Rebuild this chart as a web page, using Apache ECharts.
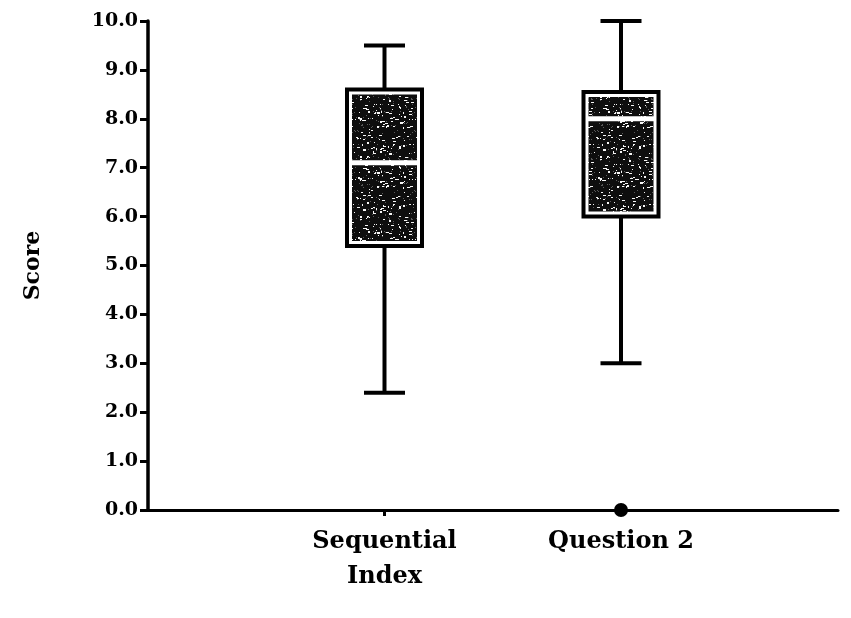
<!DOCTYPE html>
<html>
<head>
<meta charset="utf-8">
<script src="https://cdn.jsdelivr.net/npm/echarts@6/dist/echarts.min.js"></script>
<style>
  html, body { margin: 0; padding: 0; background: #fff; }
  #chart { width: 851px; height: 618px; }
</style>
</head>
<body>
<div id="chart"></div>
<script>
// Box-and-whisker summary per group
const categories = ['Sequential\nIndex', 'Question 2'];
const whiskerLow  = [2.4, 3.0];
const quartile1   = [5.4, 6.0];
const medians     = [7.1, 8.0];
const quartile3   = [8.6, 8.55];
const whiskerHigh = [9.5, 10.0];
// Outlying points: [group index, score]
const outliers = [[1, 0.0]];
const yTicks = [0, 10, 1]; // min, max, step

const FONT = 'DejaVu Serif';

// Dark speckled texture used inside the boxes
function speckleTexture() {
  const c = document.createElement('canvas');
  c.width = 60; c.height = 60;
  const g = c.getContext('2d');
  g.fillStyle = '#0e0e0e';
  g.fillRect(0, 0, 60, 60);
  function h(i, j) {
    let n = (i * 374761393 + j * 668265263) >>> 0;
    n = ((n ^ (n >>> 13)) * 1274126177) >>> 0;
    return ((n ^ (n >>> 16)) >>> 0) / 4294967295;
  }
  for (let y = 0; y < 60; y++) {
    for (let x = 0; x < 60; x++) {
      const r = h(x, y);
      if (r < 0.035) {
        g.fillStyle = '#f6f6f6';
        g.fillRect(x, y, 1 + Math.floor(h(y, x) * 3), 1 + (h(x + 7, y) < 0.3 ? 1 : 0));
      } else if (r < 0.07) {
        g.fillStyle = '#5a5a5a';
        g.fillRect(x, y, 1, 1);
      }
    }
  }
  return c;
}
const texture = speckleTexture();

const boxData = categories.map((_, i) => [
  i + 1, whiskerLow[i], quartile1[i], medians[i], quartile3[i], whiskerHigh[i]
]);

function renderBox(params, api) {
  const x = api.value(0);
  const pLo = api.coord([x, api.value(1)]);
  const pQ1 = api.coord([x, api.value(2)]);
  const pMed = api.coord([x, api.value(3)]);
  const pQ3 = api.coord([x, api.value(4)]);
  const pHi = api.coord([x, api.value(5)]);
  const cx = pMed[0];
  const half = 37.5, capHalf = 20.5, inset = 5, gap = 2.5;
  const line = (x1, y1, x2, y2) => ({
    type: 'line',
    shape: { x1, y1, x2, y2 },
    style: { stroke: '#000', lineWidth: 4 }
  });
  return {
    type: 'group',
    children: [
      line(cx, pHi[1], cx, pQ3[1]),
      line(cx - capHalf, pHi[1], cx + capHalf, pHi[1]),
      line(cx, pQ1[1], cx, pLo[1]),
      line(cx - capHalf, pLo[1], cx + capHalf, pLo[1]),
      {
        type: 'rect',
        shape: { x: cx - half, y: pQ3[1], width: half * 2, height: pQ1[1] - pQ3[1] },
        style: { fill: '#fff', stroke: '#000', lineWidth: 4 }
      },
      {
        type: 'rect',
        shape: {
          x: cx - half + inset, y: pQ3[1] + inset,
          width: half * 2 - inset * 2, height: (pMed[1] - gap) - (pQ3[1] + inset)
        },
        style: { fill: { image: texture, repeat: 'repeat' } }
      },
      {
        type: 'rect',
        shape: {
          x: cx - half + inset, y: pMed[1] + gap,
          width: half * 2 - inset * 2, height: (pQ1[1] - inset) - (pMed[1] + gap)
        },
        style: { fill: { image: texture, repeat: 'repeat' } }
      }
    ]
  };
}

const chart = echarts.init(document.getElementById('chart'), null, { renderer: 'canvas' });
chart.setOption({
  animation: false,
  backgroundColor: '#fff',
  grid: { left: 148, right: 13, top: 21, bottom: 108, containLabel: false },
  xAxis: {
    type: 'value',
    min: 0,
    max: 690 / 236.5,
    splitLine: { show: false },
    axisLine: { show: true, lineStyle: { color: '#000', width: 3 } },
    axisTick: {
      show: true, customValues: [1, 2], length: 6,
      lineStyle: { color: '#000', width: 3 }
    },
    axisLabel: {
      show: true,
      customValues: [1, 2],
      formatter: v => categories[Math.round(v) - 1] || '',
      fontFamily: FONT, fontWeight: 'bold', fontSize: 24,
      lineHeight: 35, color: '#000', margin: 14
    }
  },
  yAxis: {
    type: 'value',
    min: yTicks[0],
    max: yTicks[1],
    interval: yTicks[2],
    name: 'Score',
    nameLocation: 'middle',
    nameGap: 104,
    nameTextStyle: { fontFamily: FONT, fontWeight: 'bold', fontSize: 22, color: '#000' },
    splitLine: { show: false },
    axisLine: { show: true, lineStyle: { color: '#000', width: 3.5 } },
    axisTick: { show: true, length: 8, lineStyle: { color: '#000', width: 3 } },
    axisLabel: {
      formatter: v => v.toFixed(1),
      fontFamily: FONT, fontWeight: 'bold', fontSize: 19,
      color: '#000', margin: 10
    }
  },
  series: [
    {
      type: 'custom',
      renderItem: renderBox,
      clip: false,
      encode: { x: 0, y: [1, 2, 3, 4, 5] },
      data: boxData
    },
    {
      type: 'scatter',
      clip: false,
      symbol: 'circle',
      symbolSize: 14,
      z: 5,
      itemStyle: { color: '#000', opacity: 1 },
      data: outliers.map(o => [o[0] + 1, o[1]])
    }
  ]
});
</script>
</body>
</html>
